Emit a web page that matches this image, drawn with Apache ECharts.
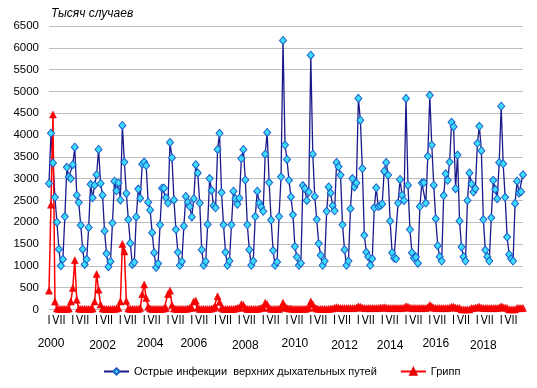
<!DOCTYPE html>
<html><head><meta charset="utf-8">
<script src="https://cdn.jsdelivr.net/npm/echarts@6/dist/echarts.min.js"></script>
<style>html,body{margin:0;padding:0;background:#fff}#c{width:537px;height:388px}</style>
</head><body><div id="c"></div>
<script>
// ---------- DATA ----------
const years = [2000, 2001, 2002, 2003, 2004, 2005, 2006, 2007, 2008, 2009,
               2010, 2011, 2012, 2013, 2014, 2015, 2016, 2017, 2018, 2019];
const monthTickLabels = ['I', 'VII'];
const yearTickLabels = ['2000', '2002', '2004', '2006', '2008', '2010', '2012', '2014', '2016', '2018'];
const yTitle = 'Тысяч случаев';
const seriesNames = ['Острые инфекции  верхних дыхательных путей', 'Грипп'];

// monthly values, thousand cases (Jan..Dec per line)
const ariValues = [
  2890, 4040, 3360, 2570, 2000, 1380, 1000, 1150, 2130, 3260, 3040, 3000,
  3320, 3720, 2620, 2450, 1930, 1380, 1030, 1150, 1880, 2870, 2560, 2850,
  3090, 3670, 2890, 2620, 1800, 1280, 980, 1100, 1980, 2940, 2720, 2900,
  2510, 4220, 3380, 2660, 2060, 1520, 1030, 1080, 2120, 2760, 2550, 3330,
  3380, 3300, 2460, 2280, 1760, 1300, 960, 1050, 1940, 2780, 2780, 2560,
  2440, 3830, 3480, 2510, 1830, 1310, 1010, 1100, 1910, 2590, 2460, 2360,
  2120, 2540, 3320, 3130, 2440, 1370, 1010, 1100, 1950, 3000, 2730, 2380,
  2330, 3670, 4040, 2680, 1940, 1310, 1010, 1110, 1940, 2710, 2540, 2410,
  2550, 3460, 3670, 2970, 1940, 1370, 1010, 1110, 2130, 2710, 2440, 2350,
  2250, 3560, 4060, 2910, 2050, 1350, 1010, 1090, 2130, 3040, 6170, 3770,
  3440, 2960, 2580, 2170, 1440, 1200, 1010, 1060, 2840, 2770, 2500, 2690,
  5830, 3560, 2590, 2060, 1510, 1240, 1010, 1110, 2250, 2810, 2670, 2380,
  2260, 3370, 3270, 3080, 1940, 1370, 1010, 1110, 2310, 3000, 2810, 2900,
  4840, 4340, 3230, 1700, 1310, 1210, 1010, 1160, 2330, 2790, 2360, 2380,
  2420, 3170, 3370, 3080, 2030, 1300, 1180, 1160, 2440, 2980, 2620, 2500,
  4840, 2850, 1830, 1300, 1180, 1200, 1060, 2360, 2900, 2910, 2440, 3510,
  4910, 3770, 2850, 2080, 1460, 1210, 1110, 2610, 3110, 2960, 3380, 4290,
  4190, 2770, 3540, 2030, 1430, 1210, 1110, 2500, 3130, 2880, 2690, 2770,
  3810, 4200, 3640, 2060, 1360, 1210, 1110, 2100, 2960, 2750, 2540, 3370,
  4660, 3340, 2570, 1660, 1260, 1160, 1110, 2430, 2940, 2670, 2700, 3090
];
const fluValues = [
  430, 2400, 4470, 180, 20, 10, 10, 10, 10, 10, 20, 180,
  490, 1130, 220, 20, 10, 10, 10, 10, 10, 10, 20, 180,
  810, 450, 110, 20, 10, 10, 10, 10, 10, 10, 20, 30,
  180, 1500, 1330, 190, 20, 10, 10, 10, 10, 10, 30, 350,
  570, 260, 60, 20, 10, 10, 10, 10, 10, 10, 20, 30,
  350, 430, 100, 20, 10, 10, 10, 10, 10, 10, 20, 30,
  40, 180, 200, 40, 10, 10, 10, 10, 10, 10, 20, 30,
  60, 300, 170, 30, 10, 10, 10, 10, 10, 10, 20, 30,
  40, 120, 100, 30, 10, 10, 10, 10, 10, 10, 20, 30,
  40, 150, 120, 30, 10, 10, 10, 10, 10, 40, 150, 60,
  30, 20, 20, 10, 10, 10, 10, 10, 10, 10, 20, 40,
  180, 120, 40, 20, 10, 10, 10, 10, 10, 10, 20, 20,
  40, 50, 40, 30, 30, 30, 30, 30, 30, 30, 30, 40,
  70, 60, 40, 30, 30, 30, 30, 30, 30, 30, 30, 40,
  40, 50, 40, 30, 30, 30, 30, 30, 30, 30, 30, 40,
  70, 60, 40, 30, 30, 30, 30, 30, 30, 30, 30, 50,
  100, 70, 40, 30, 30, 30, 30, 30, 30, 30, 40, 60,
  60, 40, 30, 30, 0, 0, 0, 0, 0, 30, 30, 40,
  50, 60, 40, 30, 30, 30, 30, 30, 30, 30, 30, 40,
  70, 50, 40, 30, 0, 0, 0, 0, 30, 30, 30, 30
];

// ---------- LAYOUT ----------
const categories = [];
years.forEach(function (y) { for (let m = 1; m <= 12; m++) categories.push(y + '-' + m); });

// where (in months from January) each year label sits, and whether it is a bit lower
const yearLabelShift = {'2000': 1, '2002': 3, '2004': 3, '2006': 1, '2008': 3, '2010': 4, '2012': 5, '2014': 4, '2016': 3, '2018': 3};
const yearLabelLow = {'2002': true, '2008': true, '2012': true, '2014': true, '2018': true};
const yearAt = {};
yearTickLabels.forEach(function (t) {
  yearAt[(Number(t) - years[0]) * 12 + yearLabelShift[t]] = t;
});

const FONT = '"Liberation Sans", Arial, sans-serif';
const NARROW = '"Liberation Sans Narrow", "DejaVu Sans Condensed", "Liberation Sans", sans-serif';
const chart = echarts.init(document.getElementById('c'), null, {renderer: 'canvas'});
chart.setOption({
  animation: false,
  backgroundColor: '#fff',
  textStyle: {fontFamily: FONT},
  title: {
    text: yTitle, left: 46, top: 3,
    textStyle: {fontSize: 12, fontStyle: 'italic', fontWeight: 'normal', color: '#000', fontFamily: FONT}
  },
  grid: {left: 49, right: 14, top: 26, bottom: 78.6},
  legend: {
    left: 98, top: 361, itemWidth: 25, itemHeight: 8, itemGap: 23,
    textStyle: {fontSize: 11, color: '#000', fontFamily: FONT},
    data: seriesNames
  },
  xAxis: [{
    type: 'category', data: categories, boundaryGap: false,
    axisLine: {lineStyle: {color: '#BFBFBF', width: 1}},
    axisTick: {show: false},
    splitLine: {show: false},
    axisLabel: {
      interval: function (i) { return i % 6 === 0; },
      formatter: function (v, i) { return i % 12 === 0 ? '{a|' + monthTickLabels[0] + '}' : '{b|' + monthTickLabels[1] + '}'; },
      margin: 6,
      rich: {
        a: {fontSize: 11.5, color: '#000', fontFamily: NARROW},
        b: {fontSize: 11.5, color: '#000', fontFamily: NARROW, padding: [0, 4, 0, 0]}
      }
    }
  }, {
    type: 'category', data: categories, boundaryGap: false, position: 'bottom', offset: 22,
    axisLine: {show: false}, axisTick: {show: false}, splitLine: {show: false},
    axisLabel: {
      interval: function (i) { return yearAt[i] !== undefined; },
      formatter: function (v, i) { const t = yearAt[i]; return yearLabelLow[t] ? '{d|' + t + '}' : '{u|' + t + '}'; },
      margin: 6,
      rich: {
        u: {fontSize: 12, color: '#000', fontFamily: FONT},
        d: {fontSize: 12, color: '#000', fontFamily: FONT, padding: [2, 0, 0, 0]}
      }
    }
  }],
  yAxis: {
    type: 'value', min: 0, max: 6500, interval: 500,
    axisLine: {show: false}, axisTick: {show: false},
    splitLine: {lineStyle: {color: '#BFBFBF', width: 1}},
    axisLabel: {margin: 10, fontSize: 11.5, color: '#000', fontFamily: FONT,
      formatter: function (v) { return String(v); }}
  },
  series: [{
    name: seriesNames[0], type: 'line', data: ariValues, xAxisIndex: 0,
    symbol: 'diamond', symbolSize: [7, 8], showAllSymbol: true,
    lineStyle: {color: '#1A1A8C', width: 1.3},
    itemStyle: {color: '#3CDCFF', borderColor: '#1E5FC8', borderWidth: 1}
  }, {
    name: seriesNames[1], type: 'line', data: fluValues, xAxisIndex: 0,
    symbol: 'triangle', symbolSize: [7, 7], showAllSymbol: true,
    lineStyle: {color: '#FF0000', width: 1.5},
    itemStyle: {color: '#FF0000', borderColor: '#E00000', borderWidth: 0.5}
  }]
});
</script>
</body></html>
